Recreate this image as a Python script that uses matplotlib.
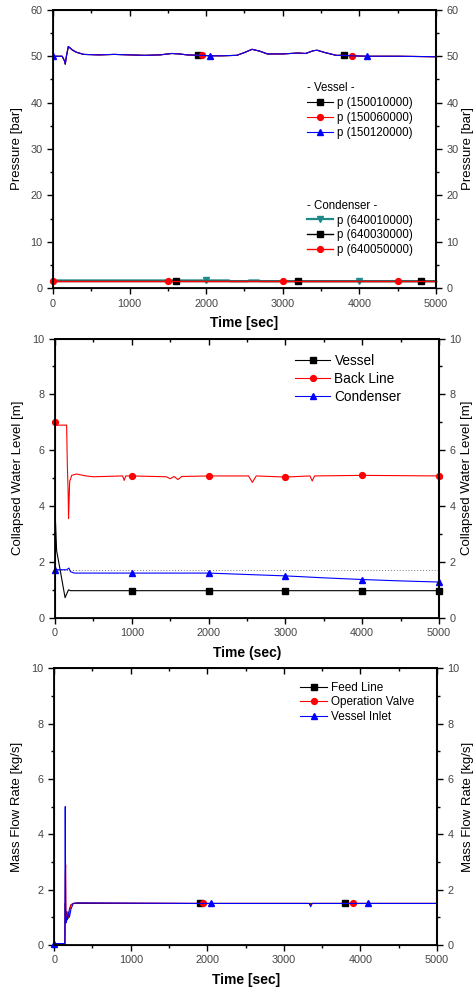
import numpy as np
import matplotlib
matplotlib.use("Agg")
import matplotlib.pyplot as plt

plt.rcParams['font.family'] = ['Liberation Sans', 'DejaVu Sans']

# ---------------- panel 1 : pressure ----------------
vessel_t = [0, 120, 150, 160, 175, 200, 250, 300, 400, 600, 800, 1000, 1200, 1400,
            1550, 1650, 1750, 1900, 1950, 2050, 2200, 2400, 2500, 2600, 2700, 2800,
            3000, 3200, 3300, 3400, 3450, 3550, 3700, 3800, 3900, 4100, 4500, 5000]
vessel_p = [50.0, 50.0, 49.0, 48.3, 50.0, 52.1, 51.4, 50.9, 50.4, 50.3, 50.4, 50.3,
            50.2, 50.3, 50.6, 50.5, 50.3, 50.2, 50.2, 50.1, 50.1, 50.2, 50.8, 51.5,
            51.1, 50.5, 50.5, 50.7, 50.6, 51.2, 51.3, 50.8, 50.2, 50.2, 50.1, 50.0,
            50.0, 49.9]
vessel_p_150010000 = vessel_p
vessel_p_150060000 = vessel_p
vessel_p_150120000 = vessel_p
vessel_marks = {'150010000': [1900, 3800], '150060000': [1950, 3900], '150120000': [0, 2050, 4100]}

cond_t = [0, 1500, 1600, 2000, 2300, 2310, 2550, 2560, 2690, 2700, 3000, 3200, 4000, 4500, 4800, 5000]
cond_p_640010000 = [1.65, 1.65, 1.65, 1.65, 1.65, 1.5, 1.5, 1.65, 1.65, 1.5, 1.5, 1.5, 1.5, 1.5, 1.5, 1.5]
cond_p_640030000 = [1.5] * 16
cond_p_640050000 = [1.5] * 16
cond_marks = {'640010000': [2000, 4000], '640030000': [1600, 3200, 4800], '640050000': [0, 1500, 3000, 4500]}

# ---------------- panel 2 : water level ----------------
lvl_vessel_t = [0, 20, 60, 130, 150, 175, 200, 1000, 2000, 3000, 4000, 5000]
lvl_vessel = [3.8, 2.4, 1.8, 0.72, 0.85, 1.0, 0.97, 0.97, 0.97, 0.97, 0.97, 0.97]
lvl_back_t = [0, 20, 150, 160, 170, 175, 190, 200, 215, 280, 400, 500, 880, 900, 920,
              1000, 1450, 1500, 1550, 1600, 1650, 2000, 2520, 2570, 2620, 3000, 3320,
              3350, 3380, 4000, 5000]
lvl_back = [7.0, 6.9, 6.9, 5.4, 4.5, 3.55, 4.9, 4.95, 5.1, 5.15, 5.08, 5.05, 5.08, 4.92,
            5.08, 5.08, 5.05, 4.98, 5.06, 4.95, 5.06, 5.08, 5.08, 4.85, 5.08, 5.04, 5.08,
            4.9, 5.08, 5.1, 5.08]
lvl_cond_t = [0, 150, 180, 200, 250, 1000, 2000, 2500, 3000, 3500, 4000, 4500, 5000]
lvl_cond = [1.72, 1.72, 1.78, 1.65, 1.6, 1.6, 1.6, 1.55, 1.5, 1.43, 1.37, 1.32, 1.28]
lvl_marks = {'vessel': [1000, 2000, 3000, 4000, 5000],
             'back': [0, 1000, 2000, 3000, 4000, 5000],
             'cond': [0, 1000, 2000, 3000, 4000, 5000]}
ref_level = 1.7

# ---------------- panel 3 : mass flow ----------------
flow_t = [0, 140, 145, 150, 155, 160, 170, 180, 200, 220, 250, 300, 1900, 1950, 2050,
          3330, 3350, 3370, 3800, 3900, 4100, 5000]
flow_feed = [0, 0, 1.5, 0.8, 1.0, 1.2, 1.0, 0.95, 1.3, 1.45, 1.5, 1.5, 1.5, 1.5, 1.5,
             1.5, 1.5, 1.5, 1.5, 1.5, 1.5, 1.5]
flow_valve = [0, 0, 2.5, 2.9, 1.0, 1.1, 1.0, 1.0, 1.2, 1.45, 1.5, 1.52, 1.5, 1.5, 1.5,
              1.5, 1.45, 1.5, 1.5, 1.5, 1.5, 1.5]
flow_inlet = [0.05, 0.05, 5.0, 1.5, 0.8, 1.0, 0.9, 1.2, 1.0, 1.3, 1.5, 1.52, 1.5, 1.5, 1.5,
              1.5, 1.38, 1.5, 1.5, 1.5, 1.5, 1.5]
flow_marks = {'feed': [1900, 3800], 'valve': [1950, 3900], 'inlet': [0, 2050, 4100]}

TEAL = '#1f8a8a'
TICK_C = '#444444'


def idx(t, marks):
    return [int(np.searchsorted(t, m)) for m in marks]


def setup(rect, ylim, ystep, ylabel, xlabel, lab_x, xlab_y):
    ax = fig.add_axes(rect)
    ax.set_xlim(0, 5000)
    ax.set_ylim(*ylim)
    ax.set_xticks(np.arange(0, 5001, 1000))
    ax.set_xticks(np.arange(500, 5000, 1000), minor=True)
    ax.set_yticks(np.arange(ylim[0], ylim[1] + 0.01, ystep))
    ax.set_yticks(np.arange(ylim[0] + ystep / 2, ylim[1], ystep), minor=True)
    ax.tick_params(which='both', direction='out', top=False, right=False,
                   labelsize=7.8, labelcolor=TICK_C, width=1.0)
    ax.tick_params(which='major', length=4)
    ax.tick_params(which='minor', length=2.5)
    for s in ax.spines.values():
        s.set_linewidth(1.3)
    ax.set_ylabel(ylabel, fontsize=9.5, va='center')
    ax.yaxis.set_label_coords(lab_x[0], 0.5)
    ax.set_xlabel(xlabel, fontsize=10, fontweight='bold', va='center')
    ax.xaxis.set_label_coords(0.5, xlab_y)

    # top ticks point inward, bottom ones outward
    top = ax.secondary_xaxis('top')
    top.set_xticks(np.arange(0, 5001, 1000))
    top.set_xticks(np.arange(500, 5000, 1000), minor=True)
    top.tick_params(which='both', direction='in', labeltop=False, width=1.0)
    top.tick_params(which='major', length=4)
    top.tick_params(which='minor', length=2.5)
    top.spines['top'].set_linewidth(1.3)

    rt = ax.twinx()
    rt.set_ylim(*ylim)
    rt.set_yticks(ax.get_yticks())
    rt.set_yticks(ax.get_yticks(minor=True), minor=True)
    rt.tick_params(which='both', direction='out', labelsize=7.8, labelcolor=TICK_C, width=1.0)
    rt.tick_params(which='major', length=4)
    rt.tick_params(which='minor', length=2.5)
    rt.spines['right'].set_linewidth(1.5)
    rt.spines['right'].set_color('#333333')
    rt.set_ylabel(ylabel, fontsize=9.5, rotation=90, va='center')
    rt.yaxis.set_label_coords(lab_x[1], 0.5)
    ax.set_zorder(rt.get_zorder() + 1)
    ax.patch.set_visible(False)
    return ax


fig = plt.figure(figsize=(4.75, 9.9), dpi=100)

# panel 1
ax1 = setup([0.1116, 0.709, 0.806, 0.281], (0, 60), 10, 'Pressure [bar]', 'Time [sec]',
            (-0.094, 1.085), -0.126)
h_v = []
for name, vals, col, mk in [('150010000', vessel_p_150010000, 'black', 's'),
                            ('150060000', vessel_p_150060000, 'red', 'o'),
                            ('150120000', vessel_p_150120000, 'blue', '^')]:
    ln, = ax1.plot(vessel_t, vals, color=col, lw=0.8, marker=mk, ms=4.2,
                   markevery=idx(vessel_t, vessel_marks[name]), label=f'p ({name})')
    h_v.append(ln)
h_c = []
for name, vals, col, mk, lw in [('640010000', cond_p_640010000, TEAL, 'v', 1.6),
                                ('640030000', cond_p_640030000, 'black', 's', 1.0),
                                ('640050000', cond_p_640050000, 'red', 'o', 1.0)]:
    ln, = ax1.plot(cond_t, vals, color=col, lw=lw, marker=mk, ms=4.2,
                   markevery=idx(cond_t, cond_marks[name]), label=f'p ({name})', clip_on=False)
    h_c.append(ln)
leg_kw = dict(frameon=False, fontsize=8.3, loc='upper left', borderpad=0, borderaxespad=0,
              handlelength=2.3, handletextpad=0.35, labelspacing=0.25, alignment='left',
              title_fontsize=8.3)
leg1 = ax1.legend(handles=h_v, title='- Vessel -', bbox_to_anchor=(0.663, 0.74), **leg_kw)
ax1.add_artist(leg1)
ax1.legend(handles=h_c, title='- Condenser -', bbox_to_anchor=(0.663, 0.318), **leg_kw)

# panel 2
ax2 = setup([0.116, 0.376, 0.808, 0.282], (0, 10), 2, 'Collapsed Water Level [m]', 'Time (sec)',
            (-0.096, 1.072), -0.125)
ax2.axhline(ref_level, color='#777777', lw=0.7, ls=(0, (1, 2)))
ax2.plot(lvl_vessel_t, lvl_vessel, color='black', lw=0.8, marker='s', ms=4.2,
         markevery=idx(lvl_vessel_t, lvl_marks['vessel']), label='Vessel', clip_on=False)
ax2.plot(lvl_back_t, lvl_back, color='red', lw=0.8, marker='o', ms=4.2,
         markevery=idx(lvl_back_t, lvl_marks['back']), label='Back Line', clip_on=False)
ax2.plot(lvl_cond_t, lvl_cond, color='blue', lw=0.8, marker='^', ms=4.8,
         markevery=idx(lvl_cond_t, lvl_marks['cond']), label='Condenser', clip_on=False)
ax2.legend(frameon=False, fontsize=9.8, loc='upper left', bbox_to_anchor=(0.625, 0.945),
           borderpad=0, borderaxespad=0, handlelength=2.6, handletextpad=0.3, labelspacing=0.3)

# panel 3
ax3 = setup([0.114, 0.0455, 0.806, 0.2795], (0, 10), 2, 'Mass Flow Rate [kg/s]', 'Time [sec]',
            (-0.097, 1.08), -0.126)
ax3.plot(flow_t, flow_feed, color='black', lw=0.8, marker='s', ms=4.2,
         markevery=idx(flow_t, flow_marks['feed']), label='Feed Line')
ax3.plot(flow_t, flow_valve, color='red', lw=0.8, marker='o', ms=4.2,
         markevery=idx(flow_t, flow_marks['valve']), label='Operation Valve')
ax3.plot(flow_t, flow_inlet, color='blue', lw=0.8, marker='^', ms=4.8,
         markevery=idx(flow_t, flow_marks['inlet']), label='Vessel Inlet', clip_on=False)
ax3.legend(frameon=False, fontsize=8.5, loc='upper left', bbox_to_anchor=(0.642, 0.95),
           borderpad=0, borderaxespad=0, handlelength=2.3, handletextpad=0.3, labelspacing=0.2)

fig.savefig('out.png', dpi=100)
plt.close(fig)
